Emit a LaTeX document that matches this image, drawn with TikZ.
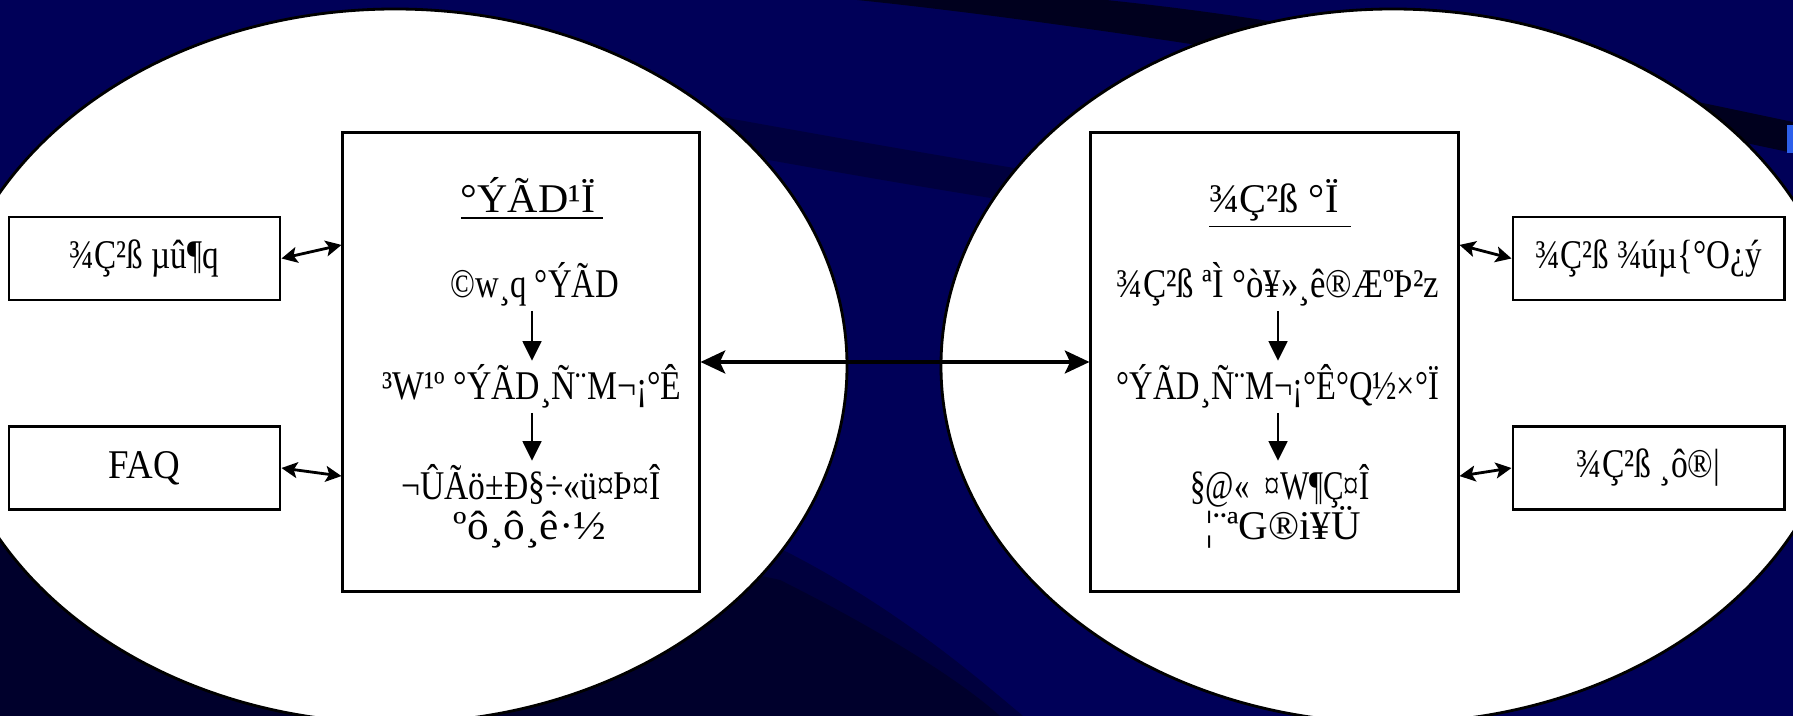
\documentclass[tikz,border=0pt]{standalone}
\usepackage{fontspec}
\setmainfont{Liberation Serif}
\usepackage{graphicx}
\usetikzlibrary{arrows.meta, positioning, calc}

\definecolor{navybg}{RGB}{0,0,88}
\definecolor{navymid}{RGB}{0,0,62}
\definecolor{navydark}{RGB}{0,0,44}
\definecolor{navyband}{RGB}{0,0,30}
\definecolor{tabblue}{RGB}{45,95,235}
\newcommand{\fitto}[2]{\resizebox{#1}{\height}{#2}}

\begin{document}
\begin{tikzpicture}[x=0.01cm, y=-0.01cm,
  panel/.style={draw, line width=0.8pt, fill=white, minimum height=4.58cm},
  side/.style={draw, line width=0.8pt, fill=white, minimum width=2.71cm, minimum height=0.83cm,
               inner sep=0pt, font=\fontsize{11.6}{14}\selectfont},
  txt/.style={anchor=base, inner sep=1pt, font=\fontsize{11.6}{14}\selectfont},
  oval/.style={draw, line width=0.8pt, fill=white},
  flow/.style={-{Triangle[length=5.6pt, width=5.4pt]}, line width=0.5pt},
  link/.style={{Stealth[length=4.5pt, width=4.5pt, inset=1pt]}-{Stealth[length=4.5pt, width=4.5pt, inset=1pt]},
               line width=0.8pt},
  bigarr/.style={{Stealth[length=7pt, width=6.5pt, inset=1.5pt]}-{Stealth[length=7pt, width=6.5pt, inset=1.5pt]},
                 line width=1.1pt},
]
\useasboundingbox (0,0) rectangle (1793,716);
\clip (0,0) rectangle (1793,716);

% background swooshes
\fill[navybg] (0,0) rectangle (1793,716);
\fill[navyband] (857,0) .. controls (1100,25) and (1500,90) .. (1793,153)
  -- (1793,122) .. controls (1500,60) and (1300,20) .. (1106,0) -- cycle;
\fill[navymid] (600,95) .. controls (750,122) and (900,150) .. (1100,182)
  -- (1100,215) .. controls (900,185) and (760,158) .. (600,130) -- cycle;
\fill[navymid] (0,430) .. controls (400,470) and (700,515) .. (787,552)
  .. controls (900,610) and (980,680) .. (1023,716) -- (0,716) -- cycle;
\fill[navydark] (0,540) .. controls (400,550) and (700,560) .. (780,580)
  .. controls (880,630) and (960,680) .. (1000,716) -- (0,716) -- cycle;
\fill[tabblue] (1787,125) rectangle (1793,153);

% the two areas
\draw[oval] (395,366) ellipse [x radius=452, y radius=357];
\draw[oval] (1393,366) ellipse [x radius=452, y radius=357];

\node[panel, minimum width=3.56cm] (prob)  at (521,362)    {};
\node[panel, minimum width=3.67cm] (learn) at (1274.5,362) {};

% problem area
\node[txt] (ptitle) at (532,213) {\underline{\fitto{1.34cm}{°ÝÃD¹Ï}\hspace{0.08cm}}};
\node[txt] (pdef)   at (535,298) {\fitto{1.68cm}{©w¸q °ÝÃD}};
\node[txt] (pplan)  at (532,400) {\fitto{2.99cm}{³W¹º °ÝÃD¸Ñ¨M¬¡°Ê}};
\node[txt] (pref)   at (531,500) {\fitto{2.59cm}{¬ÛÃö±Ð§÷«ü¤Þ¤Î}};
\node[txt] (pnet)   at (530,540) {\fitto{1.52cm}{ºô¸ô¸ê·½}};
\draw[flow] (pdef.south -| pplan.north) -- (pplan.north);
\draw[flow] (pplan.south) -- (pref.north -| pplan.south);

% learning area
\node[txt] (ltitle) at (1280,213) {\underline{\fitto{1.29cm}{¾Ç²ß °Ï}\hspace{0.12cm}}};
\node[txt] (lbase)  at (1278,298) {\fitto{3.22cm}{¾Ç²ß ªÌ °ò¥»¸ê®ÆºÞ²z}};
\node[txt] (ldisc)  at (1278,400) {\fitto{3.22cm}{°ÝÃD¸Ñ¨M¬¡°Ê°Q½×°Ï}};
\node[txt] (lwork)  at (1280,500) {\fitto{1.79cm}{§@«~ ¤W¶Ç¤Î}};
\node[txt] (lshow)  at (1283,540) {\fitto{1.55cm}{¦¨ªG®i¥Ü}};
\draw[flow] (lbase.south) -- (ldisc.north);
\draw[flow] (ldisc.south) -- (lwork.north -| ldisc.south);

% side boxes
\node[side] (score)  at (144.5,258.5)  {\fitto{1.49cm}{¾Ç²ß µû¶q}};
\node[side] (faq)    at (144.5,468)    {\fitto{0.71cm}{FAQ}};
\node[side] (record) at (1648.5,258.5) {\fitto{2.26cm}{¾Ç²ß ¾úµ\{°O¿ý}};
\node[side] (path)   at (1648.5,468)   {\fitto{1.43cm}{¾Ç²ß ¸ô®|}};

\draw[link] (score.east) -- ([yshift=1.17cm]prob.west);
\draw[link] (faq.east) -- ([yshift=-1.14cm]prob.west);
\draw[link] ([yshift=1.17cm]learn.east) -- (record.west);
\draw[link] ([yshift=-1.14cm]learn.east) -- (path.west);
\draw[bigarr] (prob.east) -- (learn.west);
\end{tikzpicture}
\end{document}
